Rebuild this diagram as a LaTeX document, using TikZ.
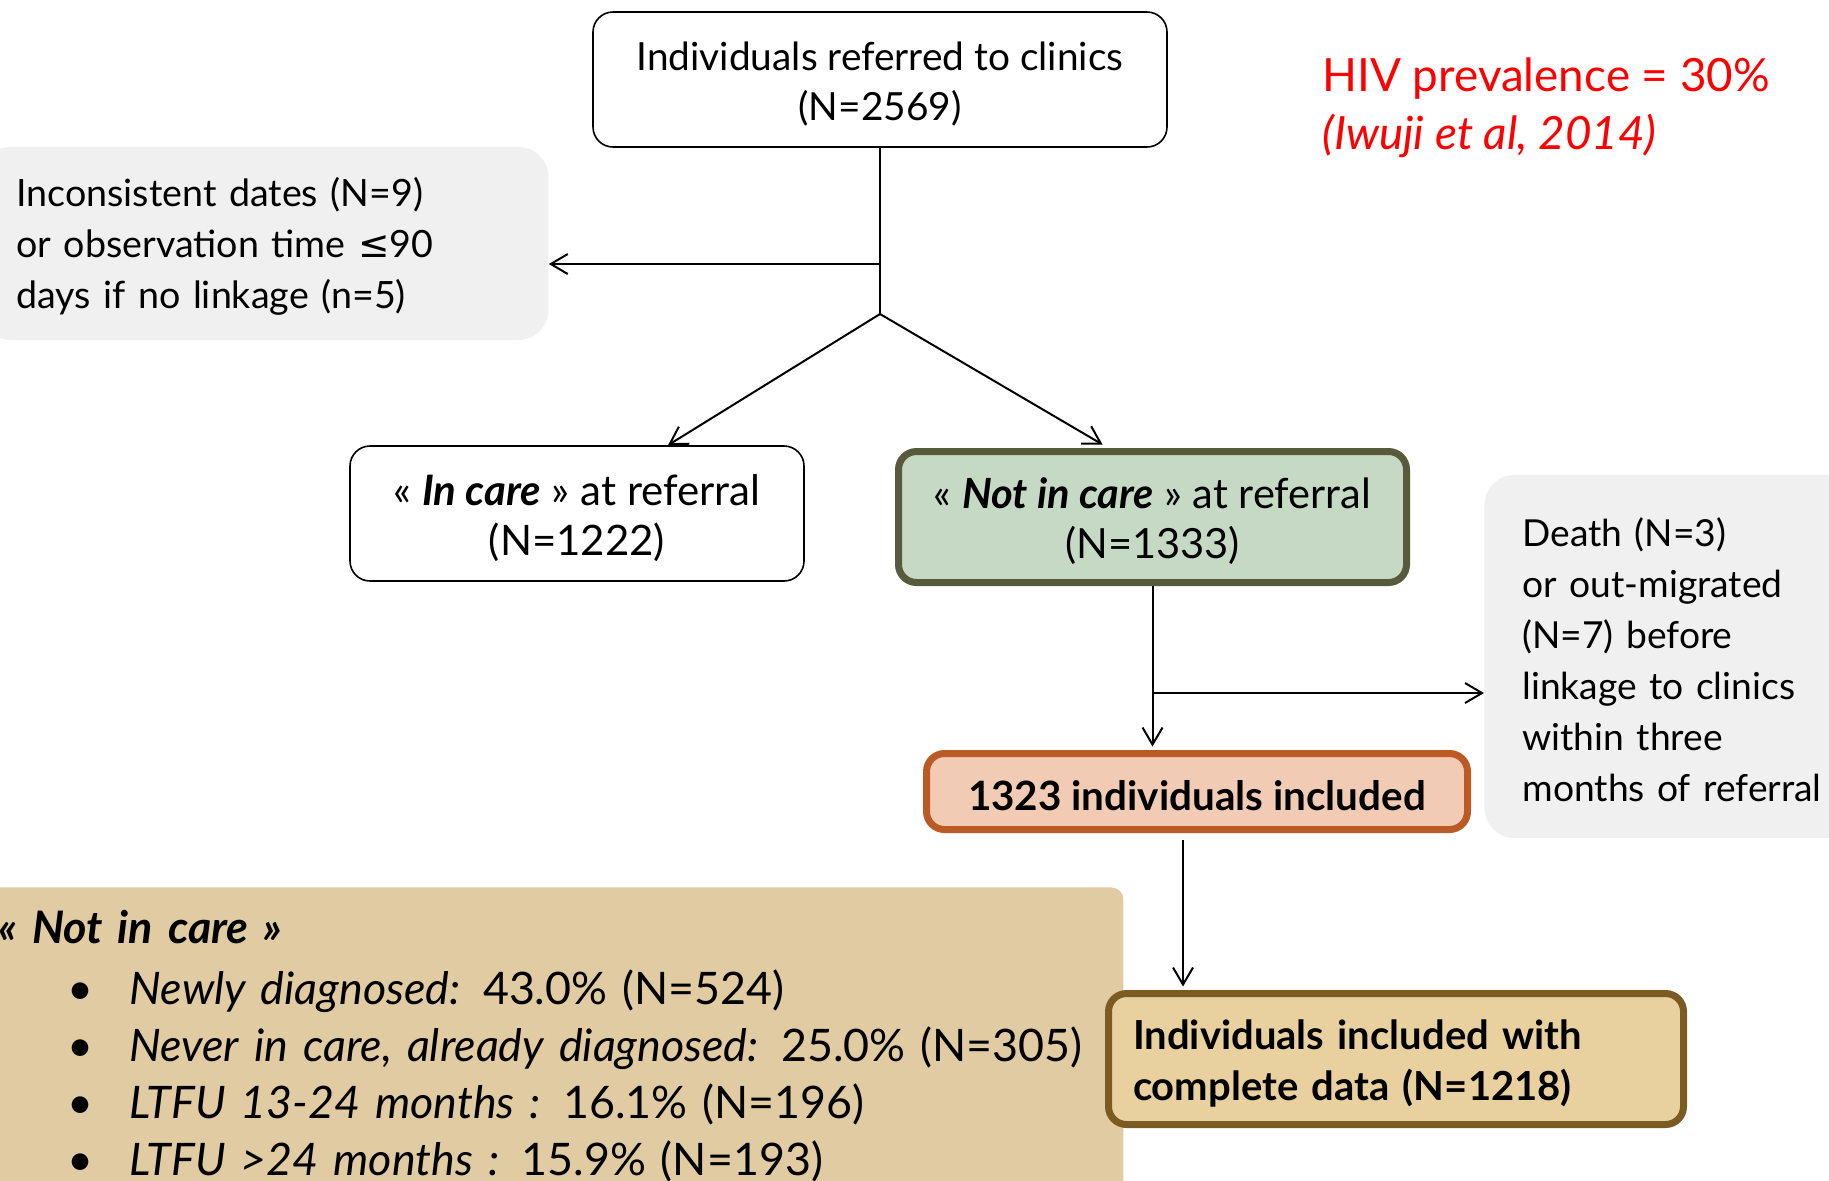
\documentclass[tikz,border=0pt]{standalone}
\usepackage{fontspec}
\setmainfont{Lato}
\newfontfamily\dejavu{DejaVu Sans}
\usetikzlibrary{arrows.meta}
\definecolor{graybox}{HTML}{F0F0F0}
\definecolor{greenfill}{HTML}{C5D9C5}
\definecolor{greenline}{HTML}{575B3C}
\definecolor{orangefill}{HTML}{F2CBB4}
\definecolor{orangeline}{HTML}{BB5A25}
\definecolor{finalfill}{HTML}{E8D19E}
\definecolor{finalline}{HTML}{7B5B21}
\definecolor{tanfill}{HTML}{E0CBA3}
\definecolor{hivred}{HTML}{FF0000}
\newcommand\fsz[2]{\fontsize{#1}{#2}\selectfont}
\newcommand\tsp{\rule{0pt}{0.95em}}
\begin{document}
\begin{tikzpicture}[x=0.5pt,y=-0.5pt,
  conn/.style={line width=1pt,-{Straight Barb[length=8.5pt,width=10pt,line width=1pt]}},
  plainline/.style={line width=1pt},
  whitebox/.style={draw=black,line width=0.8pt,rounded corners=10pt,fill=white,align=center,inner sep=0pt},
  graynote/.style={fill=graybox,rounded corners=15pt,align=left,inner ysep=0pt},
  thickbox/.style={line width=3.5pt,rounded corners=9pt,inner sep=0pt},
]
\clip (0,0) rectangle (1829,1180);
\fill[white] (0,0) rectangle (1829,1180);

\node[fill=tanfill,rounded corners=6pt,anchor=north west,align=left,text width=548.5pt,inner xsep=14pt,inner ysep=11.5pt,font=\fsz{22.4pt}{28.5pt}] (notes) at (-30,887)
  {{\bfseries\itshape « Not in care »}\\[1.75pt]
   \hspace*{34.5pt}\makebox[31pt][l]{•}\textit{Newly diagnosed:} 43.0\% (N=524)\\
   \hspace*{34.5pt}\makebox[31pt][l]{•}\textit{Never in care, already diagnosed:} 25.0\% (N=305)\\
   \hspace*{34.5pt}\makebox[31pt][l]{•}\textit{LTFU 13-24 months :} 16.1\% (N=196)\\
   \hspace*{34.5pt}\makebox[31pt][l]{•}\textit{LTFU >24 months :} 15.9\% (N=193)\\[20pt]};

\node[whitebox,font=\fsz{19.4pt}{25pt},minimum width=287pt,minimum height=67.5pt] (top) at (880,79.5)
  {\tsp Individuals referred to clinics\\(N=2569)};

\node[graynote,font=\fsz{18.8pt}{25.5pt},anchor=west,text width=248pt,inner xsep=18pt,minimum height=96.5pt] (excl1) at (-20,243.5)
  {\tsp Inconsistent dates (N=9)\\or observation time {\dejavu ≤}90\\days if no linkage (n=5)};

\node[whitebox,font=\fsz{21pt}{25pt},minimum width=227pt,minimum height=67.5pt] (incare) at (577,513.5)
  {\tsp « \textbf{\textit{In care}} » at referral\\(N=1222)};

\node[thickbox,draw=greenline,fill=greenfill,align=center,font=\fsz{20.8pt}{25pt},minimum width=254pt,minimum height=65.5pt] (notincare) at (1152.5,517)
  {\tsp « \textbf{\textit{Not in care}} » at referral\\(N=1333)};

\node[graynote,font=\fsz{18.6pt}{25.5pt},anchor=west,text width=200pt,inner xsep=19pt,minimum height=181.5pt] (excl2) at (1484,656.5)
  {\tsp Death (N=3)\\or out-migrated\\(N=7) before\\linkage to clinics\\within three\\months of referral};

\node[thickbox,draw=orangeline,fill=orangefill,align=center,font=\fsz{20.2pt}{25pt}\bfseries,minimum width=270.5pt,minimum height=38pt] (incl) at (1197,791.5)
  {\tsp 1323 individuals included};

\node[thickbox,draw=finalline,fill=finalfill,align=left,font=\fsz{20pt}{25.5pt}\bfseries,text width=263pt,inner xsep=12.25pt,minimum height=65.5pt] (final) at (1396,1059)
  {\tsp Individuals included with\\complete data (N=1218)};

\node[anchor=west,text=hivred,align=left,inner sep=0pt,font=\fsz{22.9pt}{29pt}] (hiv) at (1322,108)
  {HIV prevalence = 30\%\\\textit{(Iwuji et al, 2014)}};

\coordinate (b1) at (880,264);
\coordinate (split) at (880,314);
\draw[plainline] (top.south) -- (split);
\draw[conn] (b1) -- (b1 -| excl1.east);
\draw[conn] (split) -- ([xshift=45.5pt]incare.north);
\draw[conn] (split) -- ([xshift=-25pt,yshift=1.75pt]notincare.north);
\draw[conn] (notincare.south) -- ([yshift=1.75pt]notincare.south |- incl.north);
\coordinate (b2) at (1152.5,693);
\draw[conn] (b2) -- (b2 -| excl2.west);
\coordinate (c3) at (1183,840);
\draw[conn] (c3) -- ([yshift=1.75pt]c3 |- final.north);
\end{tikzpicture}
\end{document}
